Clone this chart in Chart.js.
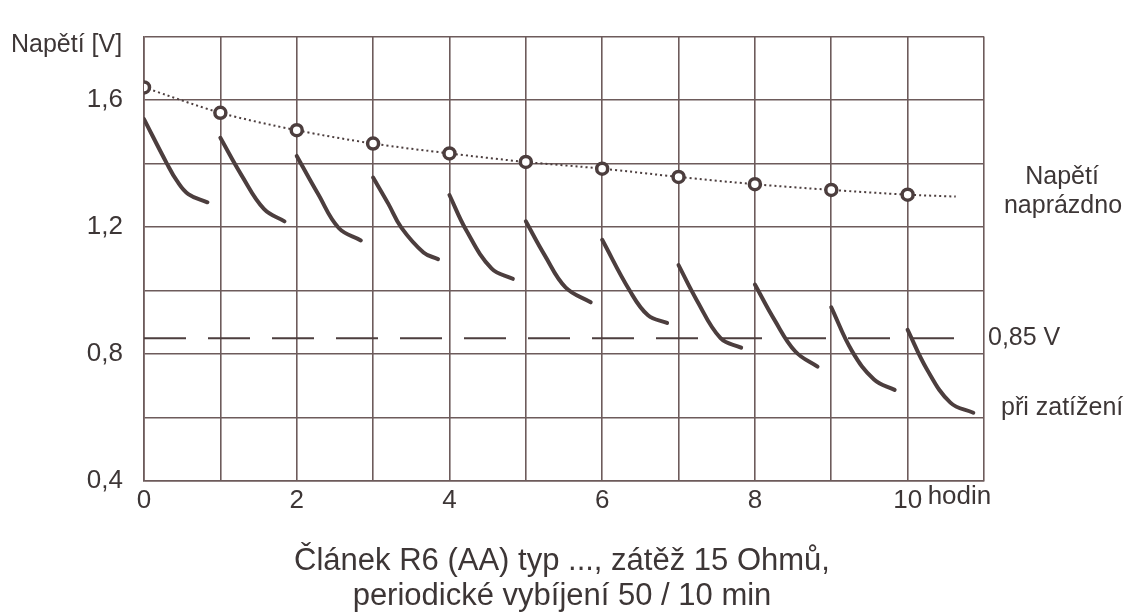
<!DOCTYPE html>
<html>
<head>
<meta charset="utf-8">
<script src="https://cdn.jsdelivr.net/npm/chart.js@4.4.0/dist/chart.umd.min.js"></script>
<style>
  body { margin: 0; background: #fff; }
  #wrap { width: 1136px; height: 615px; }
</style>
</head>
<body>
<div id="wrap"><canvas id="graf" width="1136" height="615"></canvas></div>
<script>
// napětí naprázdno (kroužky)
var openHours = [0, 1, 2, 3, 4, 5, 6, 7, 8, 9, 10, 10.63];
var openVolts = [1.64, 1.56, 1.505, 1.463, 1.432, 1.405, 1.384, 1.358, 1.335, 1.317, 1.302, 1.296];

// napětí při zatížení - jeden úsek na každou hodinu
var loadHours = [
  [0.0, 0.30, 0.43, 0.58, 0.83],
  [1.0, 1.28, 1.57, 1.84],
  [2.0, 2.28, 2.55, 2.84],
  [3.0, 3.20, 3.37, 3.66, 3.85],
  [4.0, 4.22, 4.55, 4.83],
  [5.0, 5.25, 5.52, 5.85],
  [6.0, 6.36, 6.60, 6.85],
  [7.0, 7.24, 7.55, 7.82],
  [8.0, 8.26, 8.53, 8.82],
  [9.0, 9.27, 9.56, 9.83],
  [10.0, 10.25, 10.56, 10.86]
];
var loadVolts = [
  [1.54, 1.40, 1.346, 1.304, 1.278],
  [1.481, 1.362, 1.257, 1.218],
  [1.424, 1.304, 1.197, 1.158],
  [1.356, 1.273, 1.198, 1.120, 1.099],
  [1.301, 1.19, 1.07, 1.037],
  [1.218, 1.11, 1.01, 0.963],
  [1.16, 1.0, 0.922, 0.898],
  [1.08, 0.969, 0.85, 0.82],
  [1.019, 0.906, 0.808, 0.76],
  [0.947, 0.81, 0.72, 0.687],
  [0.876, 0.753, 0.647, 0.615]
];

// hranice 0,85 V (čárkovaně)
var limitHours = [0, 10.75];
var limitVolts = [0.85, 0.85];

// popisky os
var xTickLabels = ['0', '', '2', '', '4', '', '6', '', '8', '', '10', ''];
var yTickLabels = { '4': '0,4', '8': '0,8', '12': '1,2', '16': '1,6' };

var ink = '#4c3e3e';
var gridInk = '#6d5b5b';
var textInk = '#3d3636';
var font = '"Liberation Sans", Arial, sans-serif';

function pts(xs, ys) {
  return xs.map(function (x, i) { return { x: x, y: ys[i] }; });
}

var datasets = [];

datasets.push({
  data: pts(openHours, openVolts),
  borderColor: ink,
  borderWidth: 2,
  borderDash: [2, 3],
  tension: 0.3,
  pointRadius: openHours.map(function (h, i) { return i < 11 ? 5.5 : 0; }),
  pointBorderWidth: 3.5,
  pointBorderColor: ink,
  pointBackgroundColor: '#fff'
});

datasets.push({
  data: pts(limitHours, limitVolts),
  borderColor: ink,
  borderWidth: 2,
  borderDash: [42, 22],
  pointRadius: 0
});

for (var i = 0; i < loadHours.length; i++) {
  datasets.push({
    data: pts(loadHours[i], loadVolts[i]),
    borderColor: ink,
    borderWidth: 4,
    borderCapStyle: 'round',
    tension: 0.4,
    pointRadius: 0
  });
}

// texty mimo graf
var popisky = {
  id: 'popisky',
  afterDraw: function (chart) {
    var c = chart.ctx;
    var a = chart.chartArea;
    var xs = chart.scales.x;
    c.save();
    c.fillStyle = textInk;
    c.textBaseline = 'middle';

    c.font = '25px ' + font;
    c.textAlign = 'left';
    c.fillText('Napětí [V]', 11, 45);
    c.font = '26px ' + font;
    c.fillText('hodin', xs.getPixelForValue(10) + 20, 497);
    c.font = '25px ' + font;
    c.fillText('0,85 V', a.right + 4, 338);
    c.fillText('při zatížení', a.right + 17, 408);

    c.textAlign = 'center';
    c.fillText('Napětí', 1062, 177);
    c.fillText('naprázdno', 1063, 206);

    c.font = '31px ' + font;
    c.fillText('Článek R6 (AA) typ ..., zátěž 15 Ohmů,', 562, 561);
    c.fillText('periodické vybíjení 50 / 10 min', 562, 596);
    c.restore();
  }
};

var ctx = document.getElementById('graf').getContext('2d');
var chart = new Chart(ctx, {
  type: 'line',
  data: { datasets: datasets },
  options: {
    responsive: false,
    animation: false,
    layout: { padding: { top: 33, right: 152, left: 0, bottom: 0 } },
    plugins: { legend: { display: false }, tooltip: { enabled: false } },
    scales: {
      x: {
        type: 'linear',
        min: 0,
        max: 11,
        afterFit: function (s) { s.height = 134; },
        border: { color: gridInk, width: 1.6 },
        grid: { color: gridInk, lineWidth: 1.6, drawTicks: false },
        ticks: {
          stepSize: 1,
          autoSkip: false,
          maxRotation: 0,
          padding: 4,
          color: textInk,
          font: { family: font, size: 26 },
          callback: function (v) { return xTickLabels[Math.round(v)]; }
        }
      },
      y: {
        min: 0.4,
        max: 1.8,
        afterFit: function (s) { s.width = 144; },
        border: { color: gridInk, width: 1.6 },
        grid: { color: gridInk, lineWidth: 1.6, drawTicks: false },
        ticks: {
          stepSize: 0.2,
          autoSkip: false,
          padding: 21,
          color: textInk,
          font: { family: font, size: 26 },
          callback: function (v) { return yTickLabels[String(Math.round(v * 10))] || ''; }
        }
      }
    }
  },
  plugins: [popisky]
});
</script>
</body>
</html>
